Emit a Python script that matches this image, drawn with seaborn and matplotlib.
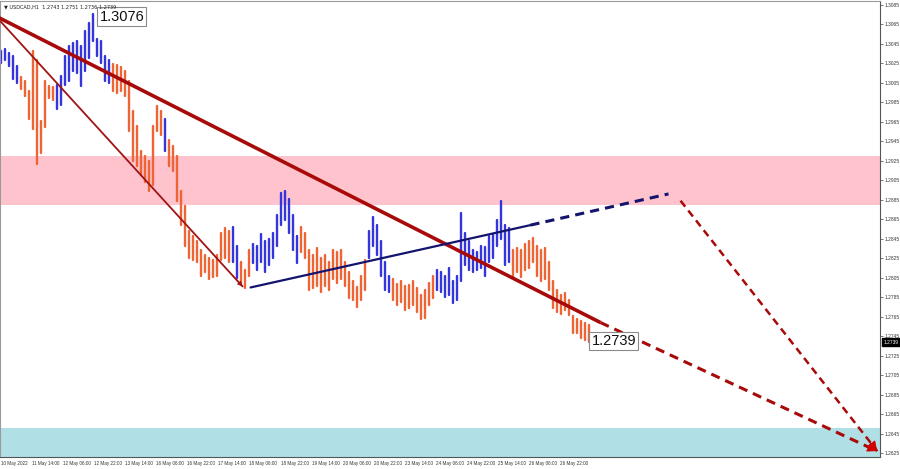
import numpy as np
import pandas as pd
import matplotlib
matplotlib.use("Agg")
import matplotlib.pyplot as plt
import matplotlib.transforms as mtransforms
import seaborn as sns

# ---------------- data ----------------
TITLE = "\u25bc USDCAD,H1  1.2743 1.2751 1.2736 1.2739"
BAR_STEP_H = 2.0576  # hours between sampled bars

HIGH = [
    1.3038, 1.3040, 1.3036, 1.3033, 1.3022, 1.3011, 1.3007, 1.2997, 1.3038, 1.3028,
    1.2966, 1.3007, 1.3002, 1.3001, 1.3003, 1.3012, 1.3033, 1.3043, 1.3046, 1.3048,
    1.3043, 1.3058, 1.3066, 1.3076, 1.3050, 1.3048, 1.3033, 1.3028, 1.3024, 1.3023,
    1.3021, 1.3017, 1.3007, 1.2976, 1.2961, 1.2935, 1.2930, 1.2925, 1.2961, 1.2981,
    1.2976, 1.2968, 1.2946, 1.2940, 1.2930, 1.2894, 1.2879, 1.2853, 1.2848, 1.2843,
    1.2833, 1.2828, 1.2825, 1.2823, 1.2828, 1.2851, 1.2856, 1.2853, 1.2857, 1.2838,
    1.2821, 1.2813, 1.2833, 1.2840, 1.2838, 1.2850, 1.2843, 1.2845, 1.2851, 1.2869,
    1.2892, 1.2894, 1.2886, 1.2869, 1.2848, 1.2857, 1.2851, 1.2833, 1.2828, 1.2835,
    1.2825, 1.2828, 1.2821, 1.2833, 1.2831, 1.2833, 1.2821, 1.2811, 1.2802, 1.2795,
    1.2807, 1.2823, 1.2853, 1.2867, 1.2859, 1.2843, 1.2821, 1.2807, 1.2804, 1.2799,
    1.2802, 1.2797, 1.2798, 1.2802, 1.2794, 1.2787, 1.2792, 1.2800, 1.2807, 1.2813,
    1.2811, 1.2807, 1.2815, 1.2802, 1.2807, 1.2871, 1.2851, 1.2843, 1.2833, 1.2831,
    1.2838, 1.2837, 1.2848, 1.2850, 1.2864, 1.2884, 1.2859, 1.2856, 1.2833, 1.2835,
    1.2833, 1.2840, 1.2843, 1.2846, 1.2838, 1.2833, 1.2835, 1.2821, 1.2802, 1.2792,
    1.2787, 1.2789, 1.2782, 1.2766, 1.2763, 1.2761, 1.2759, 1.2756,
]
LOW = [
    1.3025, 1.3028, 1.3022, 1.3009, 1.3005, 1.2999, 1.2991, 1.2968, 1.2958, 1.2922,
    1.2933, 1.2960, 1.2989, 1.2987, 1.2978, 1.2982, 1.3003, 1.3007, 1.3017, 1.3015,
    1.3002, 1.3017, 1.3030, 1.3048, 1.3033, 1.3025, 1.3007, 1.3005, 1.2997, 1.2995,
    1.2997, 1.2992, 1.2956, 1.2925, 1.2920, 1.2910, 1.2903, 1.2894, 1.2900, 1.2956,
    1.2951, 1.2935, 1.2920, 1.2915, 1.2884, 1.2859, 1.2838, 1.2825, 1.2823, 1.2821,
    1.2807, 1.2811, 1.2804, 1.2806, 1.2807, 1.2823, 1.2825, 1.2821, 1.2821, 1.2805,
    1.2800, 1.2794, 1.2807, 1.2820, 1.2813, 1.2821, 1.2811, 1.2818, 1.2825, 1.2838,
    1.2859, 1.2864, 1.2851, 1.2833, 1.2820, 1.2831, 1.2825, 1.2792, 1.2794, 1.2797,
    1.2790, 1.2797, 1.2792, 1.2804, 1.2800, 1.2804, 1.2797, 1.2784, 1.2782, 1.2775,
    1.2782, 1.2792, 1.2825, 1.2838, 1.2828, 1.2807, 1.2792, 1.2790, 1.2782, 1.2777,
    1.2780, 1.2772, 1.2774, 1.2777, 1.2770, 1.2763, 1.2764, 1.2777, 1.2784, 1.2792,
    1.2790, 1.2785, 1.2787, 1.2779, 1.2782, 1.2802, 1.2818, 1.2813, 1.2811, 1.2813,
    1.2815, 1.2807, 1.2821, 1.2825, 1.2838, 1.2845, 1.2818, 1.2821, 1.2805, 1.2811,
    1.2806, 1.2813, 1.2815, 1.2821, 1.2807, 1.2802, 1.2804, 1.2792, 1.2774, 1.2770,
    1.2768, 1.2772, 1.2767, 1.2748, 1.2748, 1.2743, 1.2741, 1.2739,
]
DIRECTION = list(
    "BBBBBOOOOO" "OOOOBBBBBB" "BBBBBBBBOO" "OOOOOOOOOO" "OBOOOOOOOO"
    "OOOOOOOOBB" "OOOBBBBBBB" "BBBBBOOOOO" "OOOOOOOOOO" "OOBBBBBBOO"
    "OOOOOOOOOB" "BBBBBBBBBB" "BBBBBBBBOO" "OOOOOOOOOO" "OOOOOOOO"
)

X_TICK_HOURS = [0, 16, 32, 48, 64, 80, 96, 112, 128, 144, 160, 176, 192, 208,
                224, 240, 256, 272, 288]
X_TICK_LABELS = ["10 May 2022", "11 May 14:00", "12 May 06:00", "12 May 22:00",
                 "13 May 14:00", "16 May 06:00", "16 May 22:00", "17 May 14:00",
                 "18 May 06:00", "18 May 22:00", "19 May 14:00", "20 May 06:00",
                 "20 May 22:00", "23 May 14:00", "24 May 06:00", "24 May 22:00",
                 "25 May 14:00", "26 May 06:00", "26 May 22:00"]
Y_TICKS = [1.3085, 1.3065, 1.3045, 1.3025, 1.3005, 1.2985, 1.2965, 1.2945, 1.2925,
           1.2905, 1.2885, 1.2865, 1.2845, 1.2825, 1.2805, 1.2785, 1.2765, 1.2745,
           1.2725, 1.2705, 1.2685, 1.2665, 1.2645, 1.2625]

# zones (price ranges)
RESIST_ZONE = [1.2880, 1.2930]
SUPPORT_ZONE = [1.2600, 1.2651]

# drawn wave lines: (hour, price) anchors
MAIN_LINE_T = [-1.0, 308.6]
MAIN_LINE_P = [1.3072, 1.2759]
MAIN_FORECAST_T = [308.6, 451.0]
MAIN_FORECAST_P = [1.2759, 1.2627]
THIN_LINE_T = [0.0, 124.5]
THIN_LINE_P = [1.3068, 1.2796]
BLUE_LINE_T = [128.6, 272.6]
BLUE_LINE_P = [1.2795, 1.2859]
BLUE_FORECAST_T = [272.6, 343.6]
BLUE_FORECAST_P = [1.2859, 1.2891]
SECOND_FORECAST_T = [349.8, 451.0]
SECOND_FORECAST_P = [1.2884, 1.2627]

HIGH_LABEL = "1.3076"
LAST_LABEL = "1.2739"
LAST_PRICE = 1.2739

# ---------------- build table ----------------
n = len(HIGH)
t = np.arange(n) * BAR_STEP_H
df = pd.DataFrame({
    "t": np.concatenate([t, t]),
    "price": np.concatenate([LOW, HIGH]),
    "bar": np.concatenate([np.arange(n), np.arange(n)]),
    "dir": DIRECTION + DIRECTION,
})

sns.set_style("white")
plt.rcParams["font.family"] = ["Liberation Sans", "DejaVu Sans"]

fig = plt.figure(figsize=(9.0, 4.69), dpi=100)
ax = fig.add_axes([0.0, 12 / 469, 880 / 900, 456 / 469])

ax.axhspan(RESIST_ZONE[0], RESIST_ZONE[1], color="#ffc3cd", zorder=0, lw=0)
ax.axhspan(SUPPORT_ZONE[0], SUPPORT_ZONE[1], color="#b0e0e6", zorder=0, lw=0)

sns.lineplot(data=df, x="t", y="price", units="bar", hue="dir", estimator=None,
             sort=False, palette={"B": "#3535dc", "O": "#ee6435"}, linewidth=1.7,
             legend=False, ax=ax, zorder=2)

RED = "#a80a0a"
NAVY = "#14146e"
ax.plot(MAIN_LINE_T, MAIN_LINE_P, color=RED, lw=2.6, solid_capstyle="butt", zorder=3)
ax.plot(MAIN_FORECAST_T, MAIN_FORECAST_P, color=RED, lw=2.2, ls=(0, (3, 2)), zorder=3)
ax.plot(THIN_LINE_T, THIN_LINE_P, color="#a01414", lw=1.3, zorder=3)
ax.plot(BLUE_LINE_T, BLUE_LINE_P, color=NAVY, lw=1.6, zorder=3)
ax.plot(BLUE_FORECAST_T, BLUE_FORECAST_P, color=NAVY, lw=2.2, ls=(0, (3, 2)), zorder=3)
ax.plot(SECOND_FORECAST_T, SECOND_FORECAST_P, color=RED, lw=1.8, ls=(0, (3, 2)), zorder=3)


def arrow_head(tx, py, size, color):
    dx = tx[1] - tx[0]
    dy = py[1] - py[0]
    ax.annotate("", xy=(tx[1], py[1]), xytext=(tx[1] - dx * 0.04, py[1] - dy * 0.04),
                arrowprops=dict(arrowstyle="-|>", color=color, lw=0.5,
                                mutation_scale=size, shrinkA=0, shrinkB=0), zorder=4)


arrow_head(THIN_LINE_T, THIN_LINE_P, 8, "#a01414")
arrow_head(MAIN_FORECAST_T, MAIN_FORECAST_P, 16, "#d00000")
arrow_head(SECOND_FORECAST_T, SECOND_FORECAST_P, 16, "#d00000")

# price labels
peak_i = int(np.argmax(HIGH))
ax.text(t[peak_i] + 3.5, HIGH[peak_i] - 0.0003, HIGH_LABEL, fontsize=10.5,
        ha="left", va="center", color="#111111", zorder=6,
        bbox=dict(boxstyle="square,pad=0.15", fc="white", ec="#8a8a8a", lw=0.8))
ax.text(t[-1] + 1.5, LOW[-1] + 0.0001, LAST_LABEL, fontsize=10.5,
        ha="left", va="center", color="#111111", zorder=6,
        bbox=dict(boxstyle="square,pad=0.15", fc="white", ec="#8a8a8a", lw=0.8))

# axes formatting
ax.set_xlim(-0.3, 452.4)
ax.set_ylim(1.2621, 1.3089)
ax.set_xticks(X_TICK_HOURS)
ax.set_xticklabels(X_TICK_LABELS, fontsize=3.3, color="#333333", ha="left")
ax.set_yticks(Y_TICKS)
ax.set_yticklabels([f"{v:.4f}" for v in Y_TICKS], fontsize=3.5, color="#333333")
ax.yaxis.tick_right()
ax.tick_params(axis="x", length=2, width=0.5, pad=1, color="#444444", direction="out")
ax.tick_params(axis="y", length=2, width=0.5, pad=1.5, color="#444444", direction="out")
ax.set_xlabel("")
ax.set_ylabel("")
for s in ["top", "left"]:
    ax.spines[s].set_color("#9a9a9a")
    ax.spines[s].set_linewidth(0.8)
for s in ["bottom", "right"]:
    ax.spines[s].set_color("#555555")
    ax.spines[s].set_linewidth(0.8)
    ax.spines[s].set_visible(True)

# current price tag on the axis
trans = mtransforms.blended_transform_factory(ax.transAxes, ax.transData)
ax.text(1.004, LAST_PRICE, f"{LAST_PRICE:.4f}", transform=trans, fontsize=3.5,
        color="white", ha="left", va="center", zorder=7, clip_on=False,
        bbox=dict(boxstyle="square,pad=0.25", fc="black", ec="black"))

fig.text(4 / 900, 1 - 7 / 469, TITLE, fontsize=3.6, color="#222222",
         ha="left", va="center", family=["DejaVu Sans"])

fig.savefig("out.png", dpi=100)
